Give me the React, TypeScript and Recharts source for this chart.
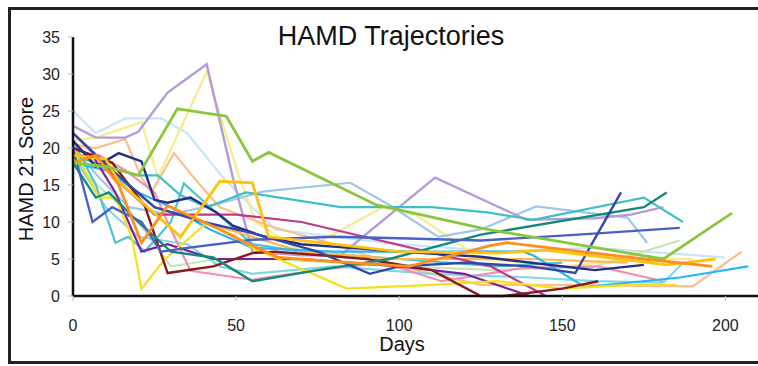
import { LineChart, Line, XAxis, YAxis } from "recharts"

// [day, HAMD-21 score] per patient
const lavender = [[0, 23], [7, 21.4], [16, 21.4], [20, 22.2], [29, 27.5], [41, 31.3], [49, 16], [55, 6], [70, 5.5], [82, 5.5], [111, 16], [139, 10.3], [160, 10.5], [171, 11], [181, 12]]
const paleYellow = [[0, 21], [7, 21.4], [21, 23.5], [26, 16], [41, 30.3], [51, 16], [56, 10], [70, 6], [95, 12], [105, 11], [125, 5], [150, 4], [175, 5], [190, 5]]
const lime = [[0, 18], [10, 17.5], [20, 16.3], [32, 25.3], [47, 24.3], [55, 18.2], [60, 19.4], [93, 12.3], [127, 9], [181, 5], [202, 11.2]]
const paleSky = [[0, 25], [7, 22], [16, 24], [27, 24], [35, 22], [46, 16], [55, 12], [62, 9], [80, 8], [100, 7], [130, 6], [160, 6.5], [200, 5.2]]
const darkTeal = [[0, 18], [7, 13.3], [11, 14], [20, 10], [30, 6], [43, 5.2], [55, 2], [75, 3.5], [97, 5], [125, 8.3], [175, 12], [182, 14]]
const teal = [[0, 19], [10, 17.5], [20, 16.3], [26, 16.3], [33, 13.6], [41, 12], [53, 14], [82, 12], [110, 12], [127, 11.3], [141, 10.3], [175, 13.3], [187, 10]]
const steelBlue = [[0, 20], [8, 16], [17, 12], [30, 11], [45, 12.5], [58, 14.1], [85, 15.3], [97, 12.3], [112, 8], [125, 9], [142, 12.1], [170, 10.6], [176, 7.2]]
const royal = [[0, 20], [6, 10], [12, 12], [21, 10], [27, 6], [35, 6.5], [55, 7.6], [80, 8], [100, 7.8], [125, 7.5], [155, 8.3], [186, 9.2]]
const navySpike = [[0, 22], [12, 17], [25, 12], [40, 10], [55, 8.5], [75, 6], [91, 3], [100, 4], [120, 4.5], [140, 4], [154, 3.1], [168, 14]]
const navy = [[0, 21], [7, 17.5], [14, 19.3], [21, 18.2], [25, 13], [29, 12.6], [36, 13.3], [44, 11.3], [49, 9.5], [58, 8.1], [70, 7], [85, 6.5], [100, 6], [125, 5.3], [160, 3.5], [175, 4.2]]
const peach = [[0, 20.5], [7, 20], [16, 21.2], [21, 16], [24, 14], [31, 19.3], [37, 16], [45, 12], [60, 9.5], [80, 7], [100, 4], [125, 1.5], [150, 1.5], [190, 1.3], [205, 6]]
const orange = [[0, 18], [7, 19], [14, 15], [21, 7.2], [29, 12.2], [45, 9], [53, 7.2], [63, 5.2], [85, 4.5], [103, 4], [128, 6.8], [133, 7.2], [175, 5], [196, 4]]
const gold = [[0, 19], [10, 18.5], [14, 15.5], [33, 8], [45, 15.5], [55, 15.3], [57, 12.3], [60, 8], [80, 7], [100, 6], [130, 5.8], [145, 6.2], [182, 4.2], [197, 5]]
const yellow = [[0, 20], [8, 13.3], [13, 13.3], [18, 8], [21, 1], [28, 4.9], [41, 9.9], [50, 8], [55, 6.5], [84, 1], [110, 1.5], [130, 2], [150, 1], [170, 1.5], [185, 1.5]]
const maroon = [[0, 20], [3, 19.5], [12, 18], [22, 12.2], [29, 3.1], [43, 4], [55, 5.8], [62, 6], [90, 5], [110, 3.5], [125, 0], [132, 0], [150, 1], [161, 2]]
const pink = [[0, 19], [8, 19], [16, 17], [25, 14], [30, 9], [36, 3.4], [55, 2.2], [75, 3.5], [95, 4.5], [113, 2], [138, 3.8], [161, 4], [181, 2]]
const purple = [[0, 20], [6, 19], [13, 14], [21, 6], [29, 7], [43, 5], [70, 5], [100, 4], [120, 3], [140, 0], [183, 0]]
const magenta = [[0, 22], [8, 18.5], [15, 15], [25, 11], [50, 11], [70, 10], [128, 4], [145, 0]]
const paleGreen = [[0, 18], [10, 14], [20, 10], [30, 4], [43, 4.9], [60, 5], [100, 4], [130, 3.5], [160, 4], [186, 7.5]]
const cyan = [[0, 18], [10, 17], [20, 14], [30, 12], [42, 9], [55, 6.5], [80, 6], [110, 6], [138, 6], [141, 5.5], [157, 1.2], [186, 2.5], [207, 4]]
const lightTeal = [[0, 19], [10, 12], [20, 8], [35, 7], [45, 4], [55, 3], [80, 4], [110, 3], [140, 2.5], [160, 2], [181, 1.8], [187, 4.5]]
const aqua = [[0, 21], [7, 15], [13, 7.2], [17, 8], [22, 6], [30, 10], [34, 15.2], [42, 12], [55, 7], [70, 6], [100, 5], [130, 4], [150, 4.5]]
const amber = [[0, 19.5], [7, 18], [14, 16], [25, 12], [40, 10], [55, 8], [70, 6], [100, 5], [140, 5], [170, 4.5]]

const patients = [paleSky, paleYellow, paleGreen, peach, lightTeal, steelBlue, lavender, pink, aqua, amber, cyan, teal, magenta, purple, yellow, maroon, darkTeal, royal, navy, navySpike, gold, orange, lime]
const colors = ["#c6e7f5", "#f6ec8c", "#c8e6b8", "#fbbe8e", "#80d8e6", "#9ec7ec", "#b59bd8", "#f48fb1", "#4fc3d3", "#ffb74d", "#29b6f6", "#3fc0c4", "#c0398e", "#7b1fa2", "#f2e21b", "#8b1a1a", "#138a7b", "#4a62c4", "#262f86", "#3347a8", "#ffc20e", "#ff8f1c", "#8cc63f"]
const widths = [2.2, 2.2, 2.2, 2.2, 2.2, 2.2, 2.4, 2.2, 2.2, 2.2, 2.2, 2.2, 2.2, 2.2, 2.2, 2.4, 2.4, 2.4, 2.4, 2.4, 2.8, 2.8, 2.8]

const xTicks = [0, 50, 100, 150, 200]
const yTicks = [0, 5, 10, 15, 20, 25, 30, 35]

const font = "'Liberation Sans', Arial, sans-serif"

export default function App() {
  const series = patients.map((p) => p.map(([day, score]) => ({ day, score })))
  const tick = { fill: "#222", fontSize: 16, fontFamily: font }

  return (
    <div style={{ position: "absolute", left: 0, top: 0, width: 758, height: 366, overflow: "hidden", background: "#fff" }}>
      <div style={{ position: "absolute", left: 8, top: 7, width: 800, height: 351, border: "3px solid #222" }} />
      <LineChart width={758} height={366} margin={{ top: 37, right: 0, bottom: 30, left: 0 }}>
        <XAxis
          type="number"
          dataKey="day"
          domain={[0, 210]}
          ticks={xTicks}
          height={40}
          tickSize={5}
          tickMargin={19}
          tick={tick}
          axisLine={{ stroke: "#111", strokeWidth: 2.5 }}
          tickLine={{ stroke: "#bbb" }}
          allowDataOverflow
        />
        <YAxis
          type="number"
          domain={[0, 35]}
          ticks={yTicks}
          width={73}
          tickSize={5}
          tickMargin={8}
          tick={tick}
          axisLine={{ stroke: "#111", strokeWidth: 2.5 }}
          tickLine={{ stroke: "#bbb" }}
        />
        {series.map((d, i) => (
          <Line
            key={i}
            data={d}
            dataKey="score"
            stroke={colors[i]}
            strokeWidth={widths[i]}
            dot={false}
            isAnimationActive={false}
          />
        ))}
      </LineChart>
      <div style={{ position: "absolute", left: 391, top: 23, transform: "translateX(-50%)", fontFamily: font, fontSize: 27, lineHeight: "27px", color: "#111", whiteSpace: "nowrap" }}>
        HAMD Trajectories
      </div>
      <div style={{ position: "absolute", left: 402, top: 334, transform: "translateX(-50%)", fontFamily: font, fontSize: 20, lineHeight: "20px", color: "#111" }}>
        Days
      </div>
      <div style={{ position: "absolute", left: 26, top: 169, transform: "translate(-50%, -50%) rotate(-90deg)", fontFamily: font, fontSize: 20, lineHeight: "20px", color: "#111", whiteSpace: "nowrap" }}>
        HAMD 21 Score
      </div>
    </div>
  )
}
